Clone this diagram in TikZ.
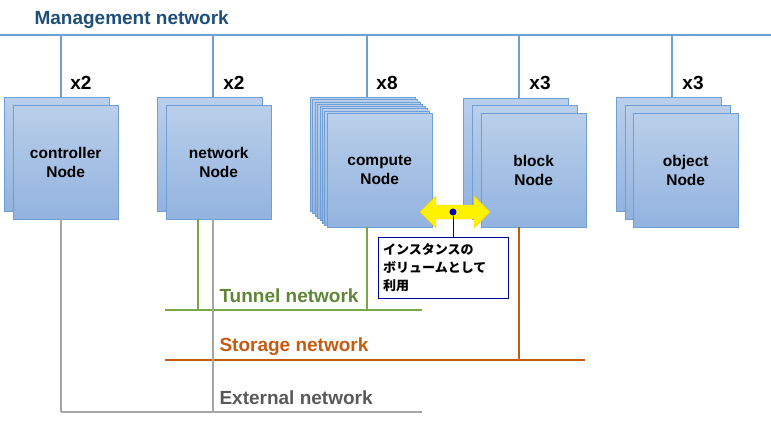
\documentclass[tikz,border=0pt]{standalone}
\usepackage{fontspec}
\setmainfont{Liberation Sans}
\newfontfamily\jpfont{Noto Sans CJK JP}
\definecolor{mgmtblue}{HTML}{6E9FD8}
\definecolor{boxtop}{HTML}{BACFEA}
\definecolor{boxbot}{HTML}{92B3DF}
\definecolor{tunnelgreen}{HTML}{77A843}
\definecolor{storageorange}{HTML}{C55A11}
\definecolor{extgray}{HTML}{A6A6A6}
\definecolor{labelblue}{HTML}{1F4E79}
\tikzset{
  srv/.style={draw=mgmtblue,top color=boxtop,bottom color=boxbot,minimum width=105pt,minimum height=114pt,inner sep=0pt,align=center,font=\bfseries\fontsize{15.5}{19}\selectfont},
  cnt/.style={font=\bfseries\fontsize{19}{19}\selectfont},
  netlabel/.style={font=\bfseries\fontsize{19}{19}\selectfont,anchor=west}
}
\begin{document}
\begin{tikzpicture}[x=1pt,y=-1pt]
  \useasboundingbox (0,0) rectangle (771,425);
  % management network
  \coordinate (mL) at (0,35);
  \coordinate (mR) at (771,35);
  \draw[mgmtblue,line width=1.5pt] (mL) -- (mR);
  \node[netlabel,text=labelblue] (mlabel) at (31,20) {Management network};
  \foreach \x in {61,213,367,519,672}
    \draw[mgmtblue,line width=1.5pt] (\x,35) -- (\x,100);
  % stacked boxes
  \begin{scope}[every node/.style={srv,anchor=north west}]
    \node at (4,97) {};
    \node at (157,97) {};
    \foreach \i in {0,...,6}
      \node at (310+2.4*\i,97+2.3*\i) {};
    \node at (463,98) {};
    \node at (472,105) {};
    \node at (616,97) {};
    \node at (625,105) {};
    \node (ctrl) at (13,105) {controller\\Node};
    \node (net) at (166,105) {network\\Node};
    \node (comp) at (327,113) {compute\\Node};
    \node (blk) at (481,113) {block\\Node};
    \node (obj) at (633,113) {object\\Node};
  \end{scope}
  \begin{scope}[every node/.style={cnt}]
    \node at (81,83) {x2};
    \node at (234,83) {x2};
    \node at (387,83) {x8};
    \node at (540,83) {x3};
    \node at (693,83) {x3};
  \end{scope}
  % lower networks
  \coordinate (tL) at (165,310);
  \coordinate (tR) at (422,310);
  \coordinate (sL) at (165,360);
  \coordinate (sR) at (585,360);
  \coordinate (eL) at (61,412);
  \coordinate (eR) at (422,412);
  \draw[tunnelgreen,line width=1.5pt] (tL) -- (tR);
  \draw[storageorange,line width=1.5pt] (sL) -- (sR);
  \draw[extgray,line width=1.5pt] (eL) -- (eR);
  \draw[tunnelgreen,line width=1.5pt] (198,219) -- (198,310);
  \draw[tunnelgreen,line width=1.5pt] (367,227) -- (367,310);
  \draw[storageorange,line width=1.5pt] (519,227) -- (519,360);
  \draw[extgray,line width=1.5pt] (213,219) -- (213,412);
  \draw[extgray,line width=1.5pt] (61,219) -- (61,412);
  \node[netlabel,text=tunnelgreen!80!black] at (216,296) {Tunnel network};
  \node[netlabel,text=storageorange] at (216,347) {Storage network};
  \node[netlabel,text=black!65] at (216,398) {External network};
  % volume callout
  \fill[yellow,draw=yellow!70!orange] (420,212) -- (436,196) -- (436,205) -- (474,205)
    -- (474,196) -- (490,212) -- (474,228) -- (474,219) -- (436,219) -- (436,228) -- cycle;
  \node[circle,fill=blue!70!black,inner sep=0pt,minimum size=7pt] (dot) at (453,212) {};
  \node[draw=blue!60!black,fill=white,anchor=north west,minimum width=129pt,minimum height=61pt,text width=120pt,inner sep=5pt,align=left,font=\jpfont\bfseries\fontsize{13}{18}\selectfont] (note) at (378,237) {インスタンスの\\ボリュームとして\\利用};
  \draw[blue!60!black] (dot) -- (note.north -| dot);
\end{tikzpicture}
\end{document}
